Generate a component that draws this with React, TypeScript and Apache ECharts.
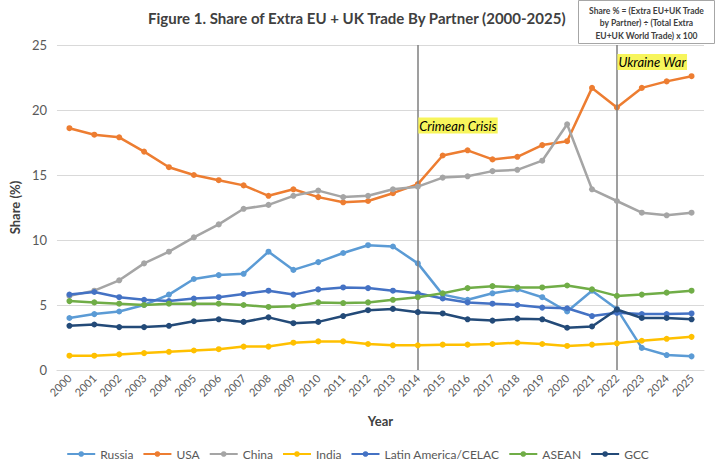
import React, { useEffect, useRef } from "react";
import * as echarts from "echarts";

const years = ["2000","2001","2002","2003","2004","2005","2006","2007","2008","2009","2010","2011","2012","2013","2014","2015","2016","2017","2018","2019","2020","2021","2022","2023","2024","2025"];
const russia = [4.0, 4.3, 4.5, 5.0, 5.8, 7.0, 7.3, 7.4, 9.1, 7.7, 8.3, 9.0, 9.6, 9.5, 8.2, 5.8, 5.4, 5.9, 6.2, 5.6, 4.5, 6.1, 4.7, 1.7, 1.15, 1.05];
const usa = [18.6, 18.1, 17.9, 16.8, 15.6, 15.0, 14.6, 14.2, 13.4, 13.9, 13.3, 12.9, 13.0, 13.6, 14.3, 16.5, 16.9, 16.2, 16.4, 17.3, 17.6, 21.7, 20.2, 21.7, 22.2, 22.6];
const china = [5.7, 6.1, 6.9, 8.2, 9.1, 10.2, 11.2, 12.4, 12.7, 13.4, 13.8, 13.3, 13.4, 13.9, 14.1, 14.8, 14.9, 15.3, 15.4, 16.1, 18.9, 13.9, 13.0, 12.1, 11.9, 12.1];
const india = [1.1, 1.1, 1.2, 1.3, 1.4, 1.5, 1.6, 1.8, 1.8, 2.1, 2.2, 2.2, 2.0, 1.9, 1.9, 1.95, 1.95, 2.0, 2.1, 2.0, 1.85, 1.95, 2.05, 2.25, 2.4, 2.55];
const latam = [5.8, 6.0, 5.6, 5.4, 5.3, 5.5, 5.6, 5.85, 6.1, 5.8, 6.2, 6.35, 6.3, 6.1, 5.9, 5.5, 5.2, 5.1, 5.0, 4.8, 4.75, 4.15, 4.4, 4.3, 4.3, 4.35];
const asean = [5.3, 5.2, 5.1, 5.0, 5.1, 5.1, 5.1, 5.0, 4.85, 4.9, 5.2, 5.15, 5.2, 5.4, 5.6, 5.9, 6.3, 6.45, 6.35, 6.35, 6.5, 6.2, 5.7, 5.8, 5.95, 6.1];
const gcc = [3.4, 3.5, 3.3, 3.3, 3.4, 3.75, 3.9, 3.7, 4.05, 3.6, 3.7, 4.15, 4.6, 4.7, 4.45, 4.35, 3.9, 3.8, 3.95, 3.9, 3.25, 3.35, 4.65, 4.0, 4.0, 3.9];

const seriesNames = ["Russia", "USA", "China", "India", "Latin America/CELAC", "ASEAN", "GCC"];
const seriesColors = ["#5B9BD5", "#ED7D31", "#A5A5A5", "#FFC000", "#4472C4", "#70AD47", "#234A78"];
const seriesData = [russia, usa, china, india, latam, asean, gcc];

const eventYears = ["2014", "2022"];
const eventLabels = ["Crimean Crisis", "Ukraine War"];
const eventLabelValues = [18.8, 23.7];

const FONT = "Lato, 'Noto Sans', sans-serif";

export default function App() {
  const ref = useRef<HTMLDivElement>(null);
  useEffect(() => {
    document.body.style.margin = "0";
    const chart = echarts.init(ref.current!, undefined, { renderer: "svg" });
    const series: any[] = seriesNames.map((name, i) => ({
      name,
      type: "line",
      data: seriesData[i],
      symbol: "circle",
      symbolSize: 6,
      color: seriesColors[i],
      lineStyle: { width: 2.5, color: seriesColors[i] },
      itemStyle: { color: seriesColors[i] },
      z: 3 + i,
    }));
    series.push({
      name: "events",
      type: "line",
      data: [],
      silent: true,
      z: 2,
      markLine: {
        silent: true,
        symbol: ["none", "none"],
        label: { show: false },
        lineStyle: { color: "#7F7F7F", width: 1.5, type: "solid" },
        data: eventYears.map((y) => ({ xAxis: y })),
      },
      markPoint: {
        silent: true,
        symbol: "circle",
        symbolSize: 1,
        itemStyle: { color: "rgba(0,0,0,0)" },
        data: eventYears.map((y, i) => ({
          coord: [y, eventLabelValues[i]],
          label: {
            show: true,
            position: "right",
            distance: 0,
            formatter: eventLabels[i],
            fontFamily: FONT,
            fontStyle: "italic",
            fontSize: 13,
            color: "#000000",
            backgroundColor: "#F7F55C",
            padding: [2, 1, 1, 1],
          },
        })),
      },
    });
    chart.setOption({
      animation: false,
      backgroundColor: "#FFFFFF",
      textStyle: { fontFamily: FONT },
      grid: { left: 53, right: 11, top: 45, bottom: 97, containLabel: false },
      xAxis: {
        type: "category",
        data: years,
        boundaryGap: true,
        name: "Year",
        nameLocation: "middle",
        nameGap: 44,
        nameTextStyle: { fontFamily: FONT, fontWeight: "bold", fontSize: 13, color: "#404040" },
        axisLine: { lineStyle: { color: "#D9D9D9", width: 1 } },
        axisTick: { show: false },
        axisLabel: { rotate: 45, interval: 0, fontSize: 11, color: "#595959", fontFamily: FONT, margin: 6 },
      },
      yAxis: {
        type: "value",
        min: 0,
        max: 25,
        interval: 5,
        name: "Share (%)",
        nameLocation: "middle",
        nameGap: 33,
        nameTextStyle: { fontFamily: FONT, fontWeight: "bold", fontSize: 13, color: "#404040" },
        axisLine: { show: false },
        axisTick: { show: false },
        splitLine: { lineStyle: { color: "#D9D9D9", width: 1 } },
        axisLabel: { fontSize: 13, color: "#595959", fontFamily: FONT, margin: 10 },
      },
      legend: {
        data: seriesNames,
        bottom: 2,
        left: "center",
        itemWidth: 28,
        itemHeight: 7,
        itemGap: 9,
        textStyle: { fontSize: 12, color: "#595959", fontFamily: FONT },
      },
      graphic: [
        {
          type: "text",
          left: "center",
          top: 10,
          style: {
            text: "Figure 1. Share of Extra EU + UK Trade By Partner (2000-2025)",
            font: `bold 15px ${FONT}`,
            fill: "#404040",
          },
        },
        {
          type: "group",
          right: 0,
          top: 0,
          children: [
            {
              type: "rect",
              shape: { x: 0, y: 0, width: 136, height: 43 },
              style: { fill: "#FFFFFF", stroke: "#A6A6A6", lineWidth: 1 },
            },
            {
              type: "text",
              x: 68,
              y: 4,
              style: {
                text: "Share % = (Extra EU+UK Trade\nby Partner) ÷ (Total Extra\nEU+UK World Trade) x 100",
                font: `bold 8.5px ${FONT}`,
                fill: "#404040",
                align: "center",
                lineHeight: 12.5,
              },
            },
          ],
        },
      ],
      series,
    });
    return () => chart.dispose();
  }, []);
  return <div ref={ref} style={{ width: 715, height: 467 }} />;
}
